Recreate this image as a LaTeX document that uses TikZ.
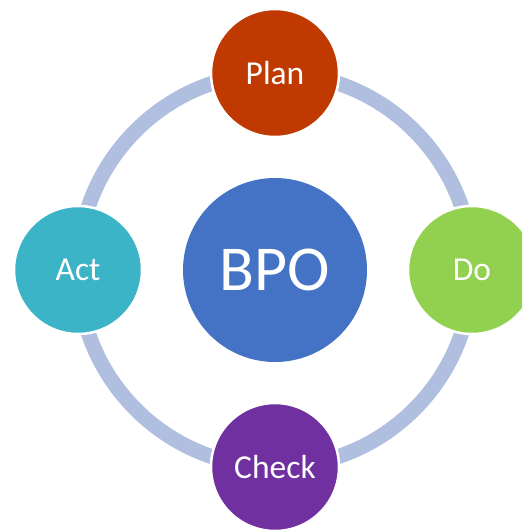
\documentclass[tikz,border=0pt]{standalone}
\usepackage{fontspec}
\setmainfont{Carlito}
\usepackage{xcolor}
\usepackage{tikz}
\usetikzlibrary{positioning,calc}

\definecolor{ringblue}{RGB}{176,190,223}
\definecolor{planred}{RGB}{192,57,0}
\definecolor{dogreen}{RGB}{146,208,80}
\definecolor{checkpurple}{RGB}{112,48,160}
\definecolor{actteal}{RGB}{60,180,200}
\definecolor{bpoblue}{RGB}{68,114,196}

\tikzset{
    stage/.style={circle, draw=white, line width=2.5pt, inner sep=0pt,
        minimum size=128pt, text=white, font=\fontsize{33.5}{38}\selectfont},
    hub/.style={circle, inner sep=0pt, minimum size=184pt, text=white,
        font=\fontsize{64}{70}\selectfont}
}

\begin{document}
\begin{tikzpicture}[x=1pt, y=-1pt]
    \useasboundingbox (0,0) rectangle (522,530);
    \clip (0,0) rectangle (522,530);

    % Hub
    \node[hub, fill=bpoblue] (bpo) at (275,270) {BPO};

    % Ring
    \draw[ringblue, line width=15pt] (bpo.center) circle[radius=197pt];

    % Stages
    \node[stage, fill=planred] (plan) at (275,73) {Plan};
    \node[stage, fill=dogreen] (do) at (472,270) {Do};
    \node[stage, fill=checkpurple] (check) at (275,467) {Check};
    \node[stage, fill=actteal] (act) at (78,270) {Act};
\end{tikzpicture}
\end{document}
